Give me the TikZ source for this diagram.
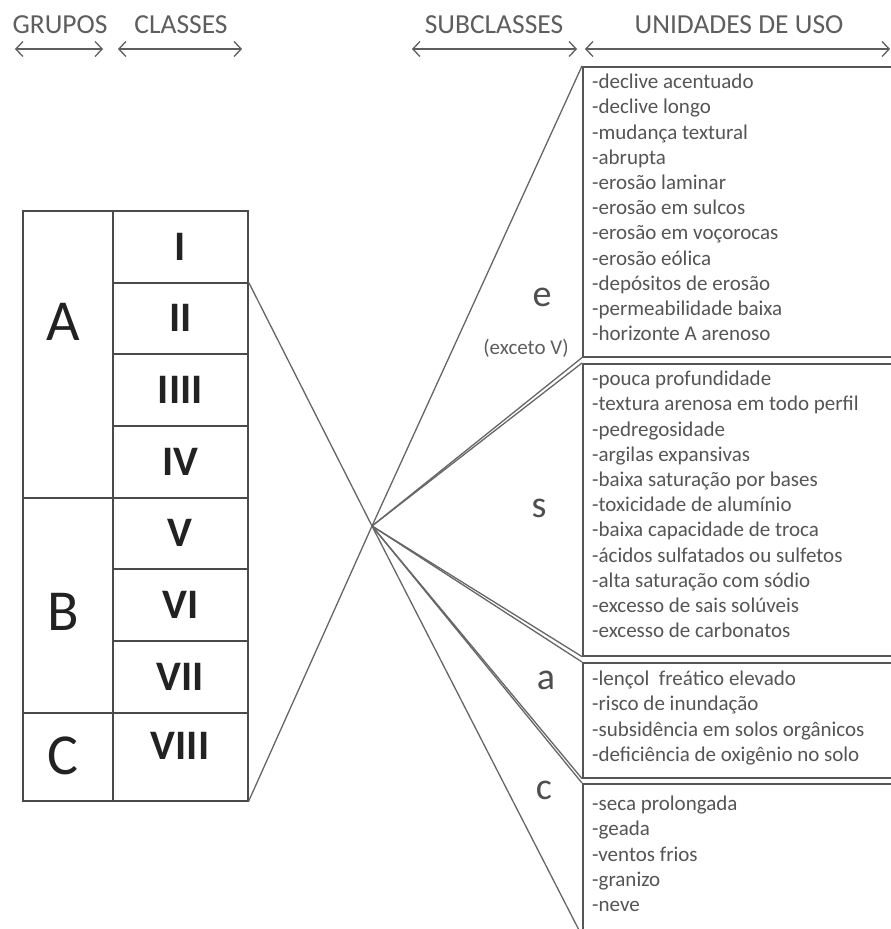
\documentclass[tikz,border=0pt]{standalone}
\usepackage{fontspec}
\setmainfont{Carlito}
\usetikzlibrary{arrows.meta}
\definecolor{tbl}{HTML}{4A4A4A}
\definecolor{boxln}{HTML}{555555}
\definecolor{conn}{HTML}{666666}
\definecolor{hdr}{HTML}{5E5E5E}
\definecolor{lst}{HTML}{555555}
\definecolor{big}{HTML}{222222}
\tikzset{
  cellbox/.style={draw=tbl, line width=1.5pt, inner sep=0pt, anchor=north west},
  numeral/.style={font=\fontsize{42}{42}\selectfont\bfseries, text=big},
  grouplbl/.style={font=\fontsize{58}{58}\selectfont, text=big},
  hdrtext/.style={font=\fontsize{27.5}{27.5}\selectfont, text=hdr, inner sep=0pt},
  hdrarrow/.style={draw=hdr, line width=1.3pt, {Straight Barb[length=7pt,width=15pt]}-{Straight Barb[length=7pt,width=15pt]}},
  usebox/.style={draw=boxln, line width=1.6pt, inner sep=0pt, anchor=north west},
  listtext/.style={font=\fontsize{21}{25.2}\selectfont, text=lst, align=left, anchor=north west, inner sep=0pt},
  subcl/.style={font=\fontsize{38}{38}\selectfont, text=big!80!white},
  conline/.style={draw=conn, line width=1.3pt},
}
\begin{document}
\begin{tikzpicture}[x=1pt,y=-1pt]
\useasboundingbox (0,0) rectangle (891,929);
\fill[white] (0,0) rectangle (891,929);

% headers
\node[hdrtext] (hG) at (60,25) {GRUPOS};
\node[hdrtext] (hC) at (181,25) {CLASSES};
\node[hdrtext] (hS) at (494,25) {SUBCLASSES};
\node[hdrtext] (hU) at (739,25) {UNIDADES DE USO};
\coordinate (gA) at (15,49);  \coordinate (gB) at (103,49);
\coordinate (cA) at (118,49); \coordinate (cB) at (242,49);
\coordinate (sA) at (412,49); \coordinate (sB) at (577,49);
\coordinate (uA) at (585,49); \coordinate (uB) at (890,49);
\draw[hdrarrow] (gA) -- (gB);
\draw[hdrarrow] (cA) -- (cB);
\draw[hdrarrow] (sA) -- (sB);
\draw[hdrarrow] (uA) -- (uB);

% group cells
\node[cellbox, minimum width=90pt, minimum height=287pt] (gcA) at (22,210) {};
\node[cellbox, minimum width=90pt, minimum height=215pt] (gcB) at (22,497) {};
\node[cellbox, minimum width=90pt, minimum height=88pt] (gcC) at (22,712) {};
\node[grouplbl] (lA) at (63,322) {A};
\node[grouplbl] (lB) at (63,612) {B};
\node[grouplbl] (lC) at (63,756) {C};

% class cells
\node[cellbox, minimum width=135pt, minimum height=72pt] (c1) at (112,210) {};
\node[cellbox, minimum width=135pt, minimum height=71pt] (c2) at (112,282) {};
\node[cellbox, minimum width=135pt, minimum height=72pt] (c3) at (112,353) {};
\node[cellbox, minimum width=135pt, minimum height=72pt] (c4) at (112,425) {};
\node[cellbox, minimum width=135pt, minimum height=71pt] (c5) at (112,497) {};
\node[cellbox, minimum width=135pt, minimum height=72pt] (c6) at (112,568) {};
\node[cellbox, minimum width=135pt, minimum height=72pt] (c7) at (112,640) {};
\node[cellbox, minimum width=135pt, minimum height=88pt] (c8) at (112,712) {};
\node[numeral] (n1) at (c1.center) {I};
\node[numeral] (n2) at (c2.center) {II};
\node[numeral] (n3) at (c3.center) {IIII};
\node[numeral] (n4) at (c4.center) {IV};
\node[numeral] (n5) at (c5.center) {V};
\node[numeral] (n6) at (c6.center) {VI};
\node[numeral] (n7) at (c7.center) {VII};
\node[numeral] (n8) at (180,746) {VIII};

% use-unit boxes
\node[usebox, minimum width=330pt, minimum height=290pt] (ebox) at (582,66) {};
\node[usebox, minimum width=330pt, minimum height=292pt] (sbox) at (582,363) {};
\node[usebox, minimum width=330pt, minimum height=115pt] (abox) at (582,662) {};
\node[usebox, minimum width=330pt, minimum height=170pt] (cbox) at (582,783) {};

\node[listtext] (etext) at (592,74) {-declive acentuado\\-declive longo\\-mudança textural\\-abrupta\\-erosão laminar\\-erosão em sulcos\\-erosão em voçorocas\\-erosão eólica\\-depósitos de erosão\\-permeabilidade baixa\\-horizonte A arenoso};
\node[listtext] (stext) at (592,371) {-pouca profundidade\\-textura arenosa em todo perfil\\-pedregosidade\\-argilas expansivas\\-baixa saturação por bases\\-toxicidade de alumínio\\-baixa capacidade de troca\\-ácidos sulfatados ou sulfetos\\-alta saturação com sódio\\-excesso de sais solúveis\\-excesso de carbonatos};
\node[listtext] (atext) at (592,671) {-lençol\ \ freático elevado\\-risco de inundação\\-subsidência em solos orgânicos\\-deficiência de oxigênio no solo};
\node[listtext] (ctext) at (592,796) {-seca prolongada\\-geada\\-ventos frios\\-granizo\\-neve};

% subclass labels
\node[subcl] (le) at (542,297) {e};
\node[font=\fontsize{21}{21}\selectfont, text=hdr] (lex) at (526,348) {(exceto V)};
\node[subcl] (ls) at (539,508) {s};
\node[subcl] (la) at (546,680) {a};
\node[subcl] (lc) at (544,790) {c};

% connectors
\coordinate (hub) at (372,526);
\coordinate (cend) at (582,936);
\draw[conline] (c2.north east) -- (hub) -- (cend);
\draw[conline] (c8.south east) -- (hub) -- (ebox.north west);
\draw[conline] (hub) -- (ebox.south west);
\draw[conline] (hub) -- (sbox.north west);
\draw[conline] (hub) -- (sbox.south west);
\draw[conline] (hub) -- (abox.north west);
\draw[conline] (hub) -- (abox.south west);
\draw[conline] (hub) -- (cbox.north west);
\end{tikzpicture}
\end{document}
